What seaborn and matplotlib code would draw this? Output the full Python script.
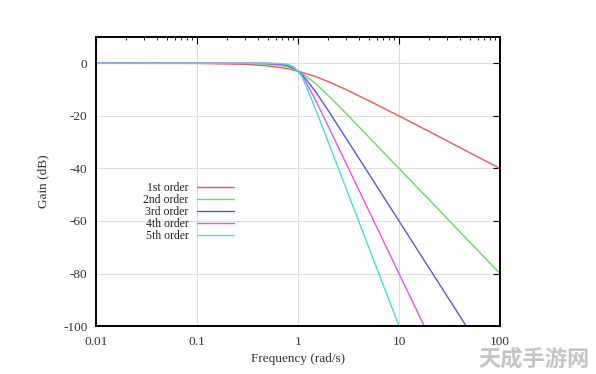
import pandas as pd
import matplotlib
matplotlib.use('Agg')
import matplotlib.pyplot as plt
import matplotlib.ticker as mticker
import seaborn as sns

# Frequencies (rad/s) and gain (dB) for each filter order
freq = [0.01, 0.1, 0.3, 0.5, 0.7, 0.8, 0.9, 1.0, 1.1, 1.2, 1.5, 2, 3, 5, 10, 20, 50, 100]
gain_1st = [0, -0.04, -0.37, -0.97, -1.73, -2.1, -2.55, -3.0, -3.45, -3.9, -5.1, -7.0, -10.0, -14.2, -20.0, -26.0, -34.0, -40.0]
gain_2nd = [0, 0, -0.04, -0.26, -0.94, -1.4, -2.1, -3.0, -4.0, -4.9, -7.8, -12.3, -19.1, -28.0, -40.0, -52.0, -68.0, -80.0]
gain_3rd = [0, 0, 0, -0.07, -0.48, -0.95, -1.8, -3.0, -4.4, -6.0, -10.9, -18.1, -28.6, -41.9, -60.0, -78.1, -102.0, -120.0]
gain_4th = [0, 0, 0, -0.02, -0.24, -0.65, -1.5, -3.0, -4.9, -7.2, -14.2, -24.1, -38.2, -55.9, -80.0, -104.1, -136.0, -160.0]
gain_5th = [0, 0, 0, 0, -0.12, -0.43, -1.3, -3.0, -5.4, -8.6, -17.7, -30.1, -47.7, -69.9, -100.0, -130.1, -170.0, -200.0]
orders = ['1st order', '2nd order', '3rd order', '4th order', '5th order']
colors = ['#e8585f', '#5fe05f', '#5858d8', '#f050f0', '#40e0e0']

rows = []
for name, g in zip(orders, [gain_1st, gain_2nd, gain_3rd, gain_4th, gain_5th]):
    for f, v in zip(freq, g):
        rows.append({'freq': f, 'gain': v, 'order': name})
df = pd.DataFrame(rows)

sns.set_style('white')
plt.rcParams['font.family'] = ['Liberation Serif', 'DejaVu Serif']
plt.rcParams['axes.unicode_minus'] = False

fig, ax = plt.subplots(figsize=(5.96, 3.74), dpi=100)
fig.subplots_adjust(left=0.161, right=0.839, top=0.901, bottom=0.128)

sns.lineplot(data=df, x='freq', y='gain', hue='order', palette=colors, ax=ax, linewidth=1.0, sort=True)

ax.set_xscale('log')
ax.set_xlim(0.01, 100)
ax.set_ylim(-100, 10)
ax.set_yticks([0, -20, -40, -60, -80, -100])
ax.xaxis.set_major_formatter(mticker.FuncFormatter(lambda v, p: '%g' % v))
ax.xaxis.set_minor_formatter(mticker.NullFormatter())
ax.xaxis.set_minor_locator(mticker.LogLocator(base=10, subs=range(2, 10), numticks=20))

ax.grid(True, which='major', color='#dddddd', linewidth=0.8)
ax.tick_params(which='both', direction='in', top=True, right=True, colors='black', labelcolor='#333333', labelsize=9.5)
ax.tick_params(axis='x', pad=7)
ax.tick_params(axis='y', pad=6)
ax.tick_params(which='major', length=5, width=0.8)
ax.tick_params(which='minor', length=2.5, width=0.6)
for s in ax.spines.values():
    s.set_color('black')
    s.set_linewidth(1.4)

ax.set_xlabel('Frequency (rad/s)', fontsize=9.5, color='#333333', labelpad=4)
ax.set_ylabel('Gain (dB)', fontsize=9.5, color='#333333', labelpad=10)

handles, labels = ax.get_legend_handles_labels()
ax.legend(handles, labels, loc='upper right', bbox_to_anchor=(0.369, 0.535), frameon=False,
          markerfirst=False, fontsize=8.5, handlelength=3.2, labelspacing=0.0, handletextpad=0.7,
          labelcolor='#222222')

fig.text(0.99, 0.008, '天成手游网', fontsize=16, fontweight='bold', color='#c4c4c4', ha='right', va='bottom',
         family=['Noto Sans CJK SC', 'DejaVu Sans'])

plt.savefig('out.png', dpi=100)
